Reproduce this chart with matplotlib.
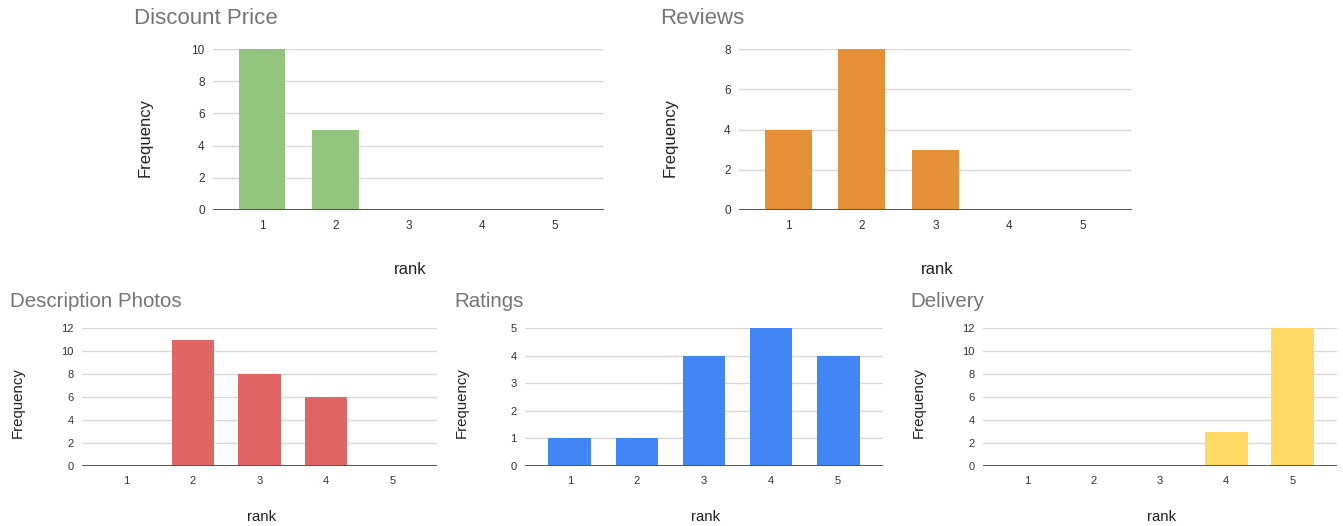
import matplotlib
matplotlib.use("Agg")
import matplotlib.pyplot as plt

plt.rcParams['font.family'] = ['Liberation Sans', 'DejaVu Sans']

ranks = [1, 2, 3, 4, 5]
rank_labels = ["1", "2", "3", "4", "5"]

discount_price = [10, 5, 0, 0, 0]
reviews = [4, 8, 3, 0, 0]
description_photos = [0, 11, 8, 6, 0]
ratings = [1, 1, 4, 5, 4]
delivery = [0, 0, 0, 3, 12]

W, H = 1343, 526
fig = plt.figure(figsize=(W / 100, H / 100), dpi=100)

TITLE_GRAY = "#757575"
TEXT = "#222222"
TICK = "#333333"
GRID = "#d9d9d9"
BASE = "#555555"


def px_axes(x0, x1, y0, y1):
    return fig.add_axes([x0 / W, 1 - y1 / H, (x1 - x0) / W, (y1 - y0) / H])


def panel(box, values, color, ymax, ystep, title, title_xy, title_size,
          ylab_xy, xlab_xy, lab_size, tick_size):
    ax = px_axes(*box)
    ax.bar(ranks, values, width=0.64, color=color, zorder=3)
    ax.set_xlim(0.33, 5.67)
    ax.set_ylim(0, ymax)
    yt = list(range(0, ymax + 1, ystep))
    ax.set_yticks(yt)
    ax.set_xticks(ranks)
    ax.set_xticklabels(rank_labels)
    ax.tick_params(axis='both', length=0, labelsize=tick_size, colors=TICK)
    ax.tick_params(axis='x', pad=7)
    ax.tick_params(axis='y', pad=6)
    for s in ax.spines.values():
        s.set_visible(False)
    for v in yt[1:]:
        ax.axhline(v, color=GRID, lw=1.0, zorder=1)
    ax.axhline(0, color=BASE, lw=1.4, zorder=4)
    fig.text(title_xy[0] / W, 1 - title_xy[1] / H, title, fontsize=title_size,
             color=TITLE_GRAY, ha='left', va='center')
    fig.text(ylab_xy[0] / W, 1 - ylab_xy[1] / H, "Frequency", fontsize=lab_size,
             color=TEXT, rotation=90, ha='center', va='center')
    fig.text(xlab_xy[0] / W, 1 - xlab_xy[1] / H, "rank", fontsize=lab_size,
             color=TEXT, ha='center', va='center')
    return ax


panel((213, 604, 49, 210), discount_price, "#93c47d", 10, 2, "Discount Price",
      (134, 18.5), 16, (145, 137), (410, 269), 12, 8.5)
panel((739, 1132, 49, 210), reviews, "#e69138", 8, 2, "Reviews",
      (660, 18.5), 16, (670, 137), (937, 269), 12, 8.5)
panel((82, 437, 328, 466), description_photos, "#e06666", 12, 2, "Description Photos",
      (10, 301.5), 14.8, (18, 403), (262, 517), 10.8, 8)
panel((525, 883, 328, 466), ratings, "#4285f4", 5, 1, "Ratings",
      (454, 301.5), 14.8, (462, 403), (706, 517), 10.8, 8)
panel((983, 1337, 328, 466), delivery, "#ffd966", 12, 2, "Delivery",
      (910, 301.5), 14.8, (919, 403), (1162, 517), 10.8, 8)

fig.savefig("out.png", dpi=100, facecolor="white")
